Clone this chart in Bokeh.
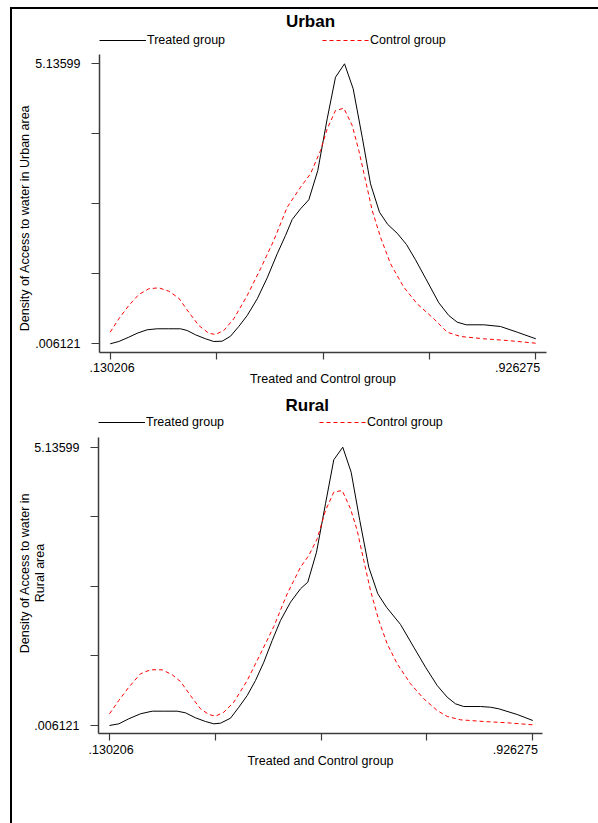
import math
from bokeh.plotting import figure
from bokeh.models import Range1d, FixedTicker, Legend, LegendItem, Label
from bokeh.layouts import column, row
from bokeh.embed import file_html
from bokeh.resources import INLINE

FONT = "Liberation Sans"

# ---- data ----
X_MIN, X_MAX = 0.130206, 0.926275
Y_MIN, Y_MAX = 0.006121, 5.13599
x_tick_labels = [".130206", ".926275"]
y_tick_labels = [".006121", "5.13599"]
legend_labels = ["Treated group", "Control group"]
x_title = "Treated and Control group"

urban_treated_x = [0.1302, 0.1463, 0.1650, 0.1807, 0.1994, 0.2181, 0.2398, 0.2617, 0.2742, 0.2898,
                   0.3085, 0.3240, 0.3397, 0.3552, 0.3707, 0.3865, 0.4052, 0.4239, 0.4426, 0.4581,
                   0.4706, 0.4862, 0.5017, 0.5185, 0.5361, 0.5516, 0.5685, 0.5847, 0.6016, 0.6171,
                   0.6339, 0.6494, 0.6670, 0.6844, 0.7013, 0.7200, 0.7449, 0.7635, 0.7793, 0.7961,
                   0.8290, 0.8603, 0.8915, 0.9263]
urban_treated_y = [0.006, 0.048, 0.127, 0.200, 0.263, 0.281, 0.281, 0.281, 0.250, 0.171,
                   0.098, 0.048, 0.054, 0.145, 0.323, 0.525, 0.830, 1.215, 1.655, 1.990,
                   2.283, 2.479, 2.644, 3.181, 4.128, 4.890, 5.136, 4.678, 3.791, 2.937,
                   2.417, 2.192, 2.032, 1.825, 1.545, 1.208, 0.757, 0.525, 0.402, 0.354,
                   0.354, 0.323, 0.219, 0.098]

urban_control_x = [0.1302, 0.1463, 0.1650, 0.1837, 0.2024, 0.2211, 0.2398, 0.2585, 0.2772, 0.2959,
                   0.3146, 0.3272, 0.3427, 0.3614, 0.3865, 0.4113, 0.4362, 0.4613, 0.4862, 0.5049,
                   0.5236, 0.5361, 0.5516, 0.5672, 0.5829, 0.5952, 0.6078, 0.6203, 0.6358, 0.6545,
                   0.6794, 0.7044, 0.7355, 0.7606, 0.7855, 0.8290, 0.8728, 0.9263]
urban_control_y = [0.219, 0.464, 0.708, 0.909, 1.014, 1.032, 0.970, 0.842, 0.585, 0.341,
                   0.200, 0.177, 0.250, 0.464, 0.891, 1.380, 1.899, 2.509, 2.875, 3.121,
                   3.548, 3.945, 4.280, 4.322, 4.006, 3.548, 2.998, 2.448, 1.959, 1.472,
                   1.043, 0.739, 0.464, 0.219, 0.140, 0.098, 0.067, 0.017]

rural_treated_x = [0.1302, 0.1477, 0.1665, 0.1885, 0.2105, 0.2323, 0.2575, 0.2731, 0.2919, 0.3107,
                   0.3264, 0.3390, 0.3578, 0.3734, 0.3892, 0.4048, 0.4204, 0.4362, 0.4518, 0.4706,
                   0.4894, 0.5031, 0.5195, 0.5364, 0.5520, 0.5689, 0.5847, 0.6009, 0.6178, 0.6348,
                   0.6511, 0.6775, 0.7025, 0.7245, 0.7465, 0.7653, 0.7809, 0.7965, 0.8279, 0.8467,
                   0.8623, 0.8969, 0.9263]
rural_treated_y = [0.006, 0.037, 0.130, 0.222, 0.270, 0.270, 0.270, 0.240, 0.148, 0.080,
                   0.037, 0.049, 0.141, 0.343, 0.559, 0.836, 1.173, 1.573, 1.942, 2.279,
                   2.526, 2.648, 3.201, 4.093, 4.904, 5.136, 4.675, 3.785, 2.924, 2.434,
                   2.187, 1.868, 1.449, 1.081, 0.743, 0.528, 0.406, 0.356, 0.356, 0.343,
                   0.314, 0.209, 0.098]

rural_control_x = [0.1302, 0.1477, 0.1665, 0.1885, 0.2073, 0.2293, 0.2481, 0.2637, 0.2825, 0.3013,
                   0.3170, 0.3296, 0.3452, 0.3640, 0.3892, 0.4142, 0.4392, 0.4644, 0.4894, 0.5050,
                   0.5208, 0.5364, 0.5520, 0.5678, 0.5834, 0.5960, 0.6084, 0.6210, 0.6367, 0.6524,
                   0.6713, 0.6963, 0.7213, 0.7465, 0.7653, 0.7903, 0.8341, 0.8781, 0.9263]
rural_control_y = [0.222, 0.467, 0.712, 0.959, 1.033, 1.033, 0.941, 0.817, 0.559, 0.314,
                   0.209, 0.178, 0.251, 0.436, 0.836, 1.328, 1.831, 2.434, 2.924, 3.140,
                   3.448, 3.969, 4.307, 4.338, 4.001, 3.601, 3.048, 2.495, 1.942, 1.512,
                   1.143, 0.775, 0.498, 0.283, 0.172, 0.111, 0.080, 0.056, 0.019]

# ---- layout (page pixels) ----
OX = 12            # content left edge inside the outer frame
TOTAL_W = 586
TICK_BORDER = 10   # room left of the frame for the y ticks

panels = [
    dict(title="Urban", title_xy=(310, 21),
         ytitle=["Density of Access to water in Urban area"], ytitle_x=[24.3], ytitle_y=217.5,
         tx=urban_treated_x, ty=urban_treated_y, cx=urban_control_x, cy=urban_control_y,
         fig_top=9, H=385, fl=99, fw=447, ax_top=54, fb=352,
         xt_px=(109.7, 535.3), yt_px=(343.3, 63.3),
         leg=(0, 302, 97), xlab_c=(105.8, 517.1), xlab_standoff=3, xt_standoff=-3),
    dict(title="Rural", title_xy=(306.7, 405),
         ytitle=["Density of Access to water in", "Rural area"], ytitle_x=[24.3, 39.3], ytitle_y=572.5,
         tx=rural_treated_x, ty=rural_treated_y, cx=rural_control_x, cy=rural_control_y,
         fig_top=394, H=429, fl=98, fw=444, ax_top=437, fb=733,
         xt_px=(109, 532.3), yt_px=(725, 446.7),
         leg=(0, 301, 95), xlab_c=(105.8, 514.8), xlab_standoff=4, xt_standoff=-3),
]

x_ticks = [X_MIN + k * (X_MAX - X_MIN) / 4 for k in range(5)]
y_ticks = [Y_MIN + k * (Y_MAX - Y_MIN) / 4 for k in range(5)]

AX_COL = "#3c3c3c"
RED = "#ff0000"
rows = []
for s in panels:
    ft = s["fig_top"]                     # frame reaches the top of the panel
    fh = s["fb"] - ft
    mbb = s["H"] - fh
    # data -> pixel scales from the tick positions read on the picture
    sx = (s["xt_px"][1] - s["xt_px"][0]) / (X_MAX - X_MIN)
    sy = (s["yt_px"][0] - s["yt_px"][1]) / (Y_MAX - Y_MIN)
    xr = Range1d(X_MIN - (s["xt_px"][0] - s["fl"]) / sx,
                 X_MIN - (s["xt_px"][0] - s["fl"]) / sx + s["fw"] / sx)
    yr = Range1d(Y_MIN - (s["fb"] - s["yt_px"][0]) / sy,
                 Y_MIN - (s["fb"] - s["yt_px"][0]) / sy + fh / sy)

    def px2x(px, xr=xr, s=s):
        return xr.start + (px - s["fl"]) * (xr.end - xr.start) / s["fw"]

    def py2y(py, yr=yr, ft=ft, fh=fh):
        return yr.end - (py - ft) * (yr.end - yr.start) / fh

    side_w = s["fl"] - TICK_BORDER - OX
    main_w = TOTAL_W - side_w

    # ---------------- main plot ----------------
    p = figure(width=main_w, height=s["H"], x_range=xr, y_range=yr,
               output_backend="svg", toolbar_location=None,
               min_border_left=TICK_BORDER, min_border_top=0,
               min_border_right=main_w - TICK_BORDER - s["fw"], min_border_bottom=mbb)
    p.title.visible = False
    p.outline_line_color = None
    p.grid.visible = False
    p.background_fill_color = "white"
    p.border_fill_color = "white"

    r1 = p.line(s["tx"], s["ty"], line_color="black", line_width=1)
    r2 = p.line(s["cx"], s["cy"], line_color=RED, line_width=1, line_dash="4 3")

    vx, vy, spacing = s["leg"]
    legend = Legend(items=[LegendItem(label=legend_labels[0], renderers=[r1]),
                           LegendItem(label=legend_labels[1], renderers=[r2])],
                    location=(vx, vy), orientation="horizontal",
                    glyph_width=47, glyph_height=20, label_height=20,
                    label_standoff=1, spacing=spacing, padding=0, margin=0,
                    border_line_color=None, background_fill_alpha=0,
                    label_text_font=FONT, label_text_font_size="12.5px",
                    label_text_color="black")
    p.add_layout(legend)

    p.add_layout(Label(x=px2x(s["title_xy"][0]), y=py2y(s["title_xy"][1]), text=s["title"],
                       text_align="center", text_baseline="middle", text_font=FONT,
                       text_font_size="17px", text_font_style="bold", text_color="black"))

    yax = p.yaxis[0]
    yax.ticker = FixedTicker(ticks=[], minor_ticks=y_ticks)
    yax.bounds = (yr.start, py2y(s["ax_top"]))
    yax.minor_tick_out = 8
    yax.minor_tick_in = 0
    yax.major_tick_out = 8
    yax.major_tick_in = 0

    lab_pos = [px2x(c) for c in s["xlab_c"]]
    xax = p.xaxis[0]
    xax.ticker = FixedTicker(ticks=lab_pos, minor_ticks=x_ticks)
    xax.major_label_overrides = {lab_pos[0]: x_tick_labels[0], lab_pos[1]: x_tick_labels[1]}
    xax.major_tick_out = 0
    xax.major_tick_in = 0
    xax.minor_tick_out = 7
    xax.minor_tick_in = 0
    xax.major_label_standoff = s["xlab_standoff"]
    xax.major_label_text_font = FONT
    xax.major_label_text_font_size = "12.5px"
    xax.major_label_text_color = "black"
    xax.axis_label = x_title
    xax.axis_label_standoff = s["xt_standoff"]
    xax.axis_label_text_font = FONT
    xax.axis_label_text_font_size = "12.5px"
    xax.axis_label_text_font_style = "normal"
    xax.axis_label_text_color = "black"

    for ax in (xax, yax):
        ax.axis_line_color = AX_COL
        ax.axis_line_width = 1.5
        ax.major_tick_line_color = AX_COL
        ax.minor_tick_line_color = AX_COL
        ax.major_tick_line_width = 1.2
        ax.minor_tick_line_width = 1.2

    # ---------------- y labels strip (shares the y scale) ----------------
    left_px = OX
    q = figure(width=side_w, height=s["H"], x_range=Range1d(left_px, left_px + side_w), y_range=yr,
               output_backend="svg", toolbar_location=None,
               x_axis_location=None, y_axis_location=None,
               min_border_left=0, min_border_right=0, min_border_top=0, min_border_bottom=mbb)
    q.title.visible = False
    q.outline_line_color = None
    q.grid.visible = False
    q.background_fill_color = "white"
    q.border_fill_color = "white"
    label_right = s["fl"] - 19
    for val, lab in zip([Y_MIN, Y_MAX], y_tick_labels):
        q.add_layout(Label(x=label_right, y=val, text=lab, text_align="right", text_baseline="middle",
                           text_font=FONT, text_font_size="12.5px", text_color="black"))
    for line, lx in zip(s["ytitle"], s["ytitle_x"]):
        q.add_layout(Label(x=lx, y=py2y(s["ytitle_y"]), text=line, angle=math.pi / 2,
                           text_align="center", text_baseline="middle",
                           text_font=FONT, text_font_size="12.5px", text_color="black"))

    rows.append(row(q, p, spacing=0))

layout = column(*rows, margin=(7, 0, 0, 10), spacing=0,
                styles={"border-left": "2px solid #000", "border-top": "2px solid #000"})

open("out.html", "w").write(file_html(layout, INLINE))
